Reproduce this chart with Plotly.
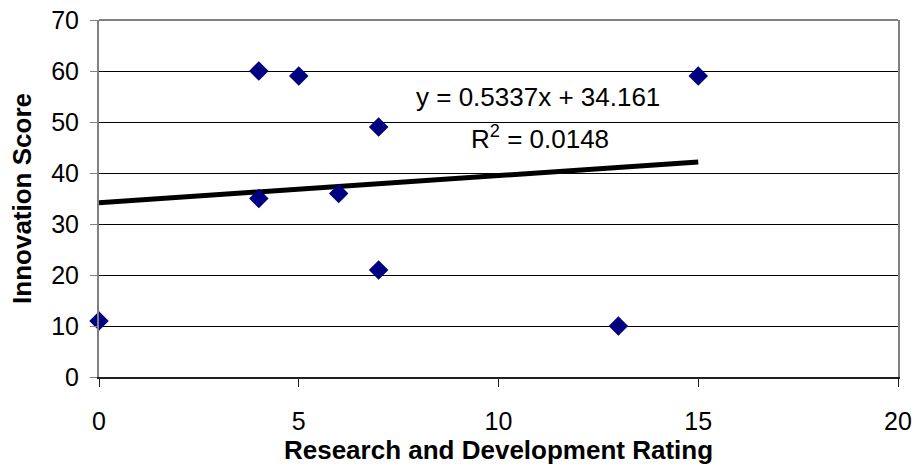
import plotly.graph_objects as go

# Research & development rating vs. innovation score
rd_rating = [0, 4, 4, 5, 6, 7, 7, 13, 15]
innovation = [11, 60, 35, 59, 36, 49, 21, 10, 59]

# Linear trendline coefficients and fit quality
slope = 0.5337
intercept = 34.161
r_squared = 0.0148

x_ticks = [0, 5, 10, 15, 20]
y_ticks = [0, 10, 20, 30, 40, 50, 60, 70]

FONT = "Arial, Liberation Sans, sans-serif"

trend_x = [min(rd_rating), max(rd_rating)]
trend_y = [slope * v + intercept for v in trend_x]

fig = go.Figure()

fig.add_trace(go.Scatter(
    x=trend_x, y=trend_y, mode="lines",
    line=dict(color="black", width=5),
    showlegend=False, hoverinfo="skip",
))

fig.add_trace(go.Scatter(
    x=rd_rating, y=innovation, mode="markers",
    marker=dict(symbol="diamond", size=15, color="#000080",
                line=dict(width=0)),
    showlegend=False, cliponaxis=False,
))

fig.add_annotation(
    x=11.0, y=54.9, xref="x", yref="y",
    text=f"y = {slope}x + {intercept}",
    showarrow=False, font=dict(family=FONT, size=26, color="black"),
    xanchor="center", yanchor="middle",
)
fig.add_annotation(
    x=11.05, y=47.0, xref="x", yref="y",
    text=f"R<sup>2</sup> = {r_squared}",
    showarrow=False, font=dict(family=FONT, size=26, color="black"),
    xanchor="center", yanchor="middle",
)

# top border of the plot area
fig.add_shape(type="line", xref="paper", yref="paper",
              x0=0, x1=1, y0=1, y1=1,
              line=dict(color="#808080", width=2))

fig.update_layout(
    width=915, height=476,
    margin=dict(l=99, r=17, t=20, b=99, autoexpand=False),
    paper_bgcolor="white", plot_bgcolor="white",
    font=dict(family=FONT, size=25, color="black"),
)

fig.update_xaxes(
    range=[0, 20], tickvals=x_ticks, ticktext=[str(v) for v in x_ticks],
    automargin=False,
    showgrid=False, zeroline=False,
    showline=True, linecolor="#202020", linewidth=2,
    ticks="outside", ticklen=8, tickcolor="#202020", tickwidth=1,
    ticklabelstandoff=13,
    tickfont=dict(family=FONT, size=25, color="black"),
    title=dict(text="<b>Research and Development Rating</b>",
               font=dict(family=FONT, size=26, color="black"), standoff=1),
)
fig.update_yaxes(
    range=[0, 70], tickvals=y_ticks, ticktext=[str(v) for v in y_ticks],
    automargin=False,
    showgrid=True, gridcolor="black", gridwidth=1, zeroline=False,
    showline=True, linecolor="#808080", linewidth=2, mirror=True,
    ticks="outside", ticklen=7, tickcolor="#808080", tickwidth=1,
    ticklabelstandoff=6,
    tickfont=dict(family=FONT, size=25, color="black"),
    title=dict(text="<b>Innovation Score</b>",
               font=dict(family=FONT, size=26, color="black"), standoff=12),
)

fig.write_html("out.html")
